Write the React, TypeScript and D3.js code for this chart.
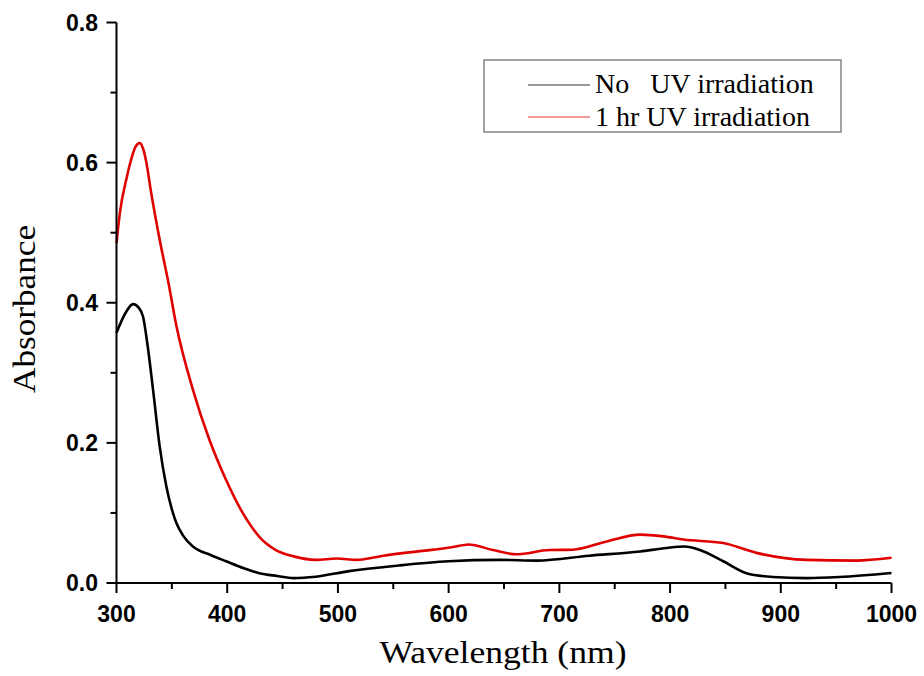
import React from "react";
import * as d3 from "d3";

// No UV irradiation (black)
const noUvX = [300, 308, 315, 320, 324, 328, 333, 339, 345, 350, 354, 360, 369, 385, 399, 415, 429, 445, 460, 480, 510, 555, 600, 646, 680, 727, 773, 797, 813, 827, 848, 869, 893, 923, 953, 1000];
const noUvY = [0.357, 0.385, 0.398, 0.393, 0.38, 0.34, 0.276, 0.195, 0.138, 0.105, 0.086, 0.068, 0.052, 0.04, 0.031, 0.021, 0.014, 0.01, 0.007, 0.009, 0.017, 0.025, 0.031, 0.033, 0.032, 0.039, 0.045, 0.05, 0.052, 0.047, 0.031, 0.014, 0.0086, 0.007, 0.0086, 0.0143];

// 1 hr UV irradiation (red)
const uvX = [300, 303, 309, 313, 317, 321, 324, 327, 331, 339, 347, 354, 369, 384, 399, 414, 429, 444, 460, 480, 499, 517, 541, 586, 603, 618, 640, 661, 691, 712, 742, 773, 794, 812, 848, 878, 923, 968, 1000];
const uvY = [0.485, 0.528, 0.577, 0.603, 0.622, 0.628, 0.62, 0.6, 0.56, 0.49, 0.428, 0.368, 0.276, 0.204, 0.147, 0.1, 0.066, 0.047, 0.038, 0.033, 0.035, 0.033, 0.039, 0.0476, 0.051, 0.055, 0.047, 0.041, 0.047, 0.0475, 0.059, 0.069, 0.0665, 0.062, 0.057, 0.043, 0.033, 0.032, 0.036];

const xMajor = [300, 400, 500, 600, 700, 800, 900, 1000];
const xMinor = [350, 450, 550, 650, 750, 850, 950];
const yMajor = [0.0, 0.2, 0.4, 0.6, 0.8];
const yMinor = [0.1, 0.3, 0.5, 0.7];

const legendLabels = ["No   UV irradiation", "1 hr UV irradiation"];
const colors = ["#000000", "#e00000"];

const W = 924;
const H = 676;

export default function App() {
  const x = d3.scaleLinear().domain([300, 1000]).range([116.5, 891.5]);
  const y = d3.scaleLinear().domain([0, 0.8]).range([583, 22.5]);

  const line = d3
    .line<[number, number]>()
    .x((d) => x(d[0]))
    .y((d) => y(d[1]))
    .curve(d3.curveMonotoneX);

  const series = [
    noUvX.map((v, i) => [v, noUvY[i]] as [number, number]),
    uvX.map((v, i) => [v, uvY[i]] as [number, number]),
  ];

  const tickFont = "'Liberation Sans', Arial, sans-serif";
  const titleFont = "'Liberation Serif', 'Times New Roman', serif";

  return (
    <svg width={W} height={H} style={{ position: "absolute", left: 0, top: 0, background: "#fff" }}>
      {/* curves */}
      {series.map((s, i) => (
        <path key={i} d={line(s) || ""} fill="none" stroke={colors[i]} strokeWidth={2.6} />
      ))}

      {/* axes */}
      <line x1={x(300)} x2={x(300)} y1={y(0.8)} y2={y(0)} stroke="#000" strokeWidth={2} />
      <line x1={x(300)} x2={x(1000)} y1={y(0)} y2={y(0)} stroke="#000" strokeWidth={2} />

      {yMajor.map((t) => (
        <g key={t}>
          <line x1={x(300) - 10} x2={x(300)} y1={y(t)} y2={y(t)} stroke="#000" strokeWidth={2} />
          <text x={98} y={y(t)} dy="0.36em" textAnchor="end" fontFamily={tickFont} fontWeight="bold" fontSize={23}>
            {t.toFixed(1)}
          </text>
        </g>
      ))}
      {yMinor.map((t) => (
        <line key={t} x1={x(300) - 6} x2={x(300)} y1={y(t)} y2={y(t)} stroke="#000" strokeWidth={2} />
      ))}

      {xMajor.map((t) => (
        <g key={t}>
          <line x1={x(t)} x2={x(t)} y1={y(0)} y2={y(0) + 10} stroke="#000" strokeWidth={2} />
          <text x={x(t)} y={622} textAnchor="middle" fontFamily={tickFont} fontWeight="bold" fontSize={23}>
            {t}
          </text>
        </g>
      ))}
      {xMinor.map((t) => (
        <line key={t} x1={x(t)} x2={x(t)} y1={y(0)} y2={y(0) + 6} stroke="#000" strokeWidth={2} />
      ))}

      {/* axis titles */}
      <text
        transform={`translate(35, ${(225 + 393) / 2}) rotate(-90)`}
        textAnchor="middle"
        fontFamily={titleFont}
        fontSize={31}
        textLength={168}
        lengthAdjust="spacingAndGlyphs"
      >
        Absorbance
      </text>
      <text
        x={503}
        y={663}
        textAnchor="middle"
        fontFamily={titleFont}
        fontSize={32}
        textLength={247}
        lengthAdjust="spacingAndGlyphs"
      >
        Wavelength (nm)
      </text>

      {/* legend */}
      <rect x={484} y={60} width={357} height={72} fill="#fff" stroke="#666" strokeWidth={1.2} />
      {legendLabels.map((lab, i) => (
        <g key={lab}>
          <line x1={528} x2={590} y1={85 + i * 32} y2={85 + i * 32} stroke={colors[i]} strokeWidth={1.2} opacity={0.8} />
          <text
            x={595}
            y={93 + i * 32.5}
            fontFamily={titleFont}
            fontSize={28}
            style={{ whiteSpace: "pre" }}
            xmlSpace="preserve"
          >
            {lab}
          </text>
        </g>
      ))}
    </svg>
  );
}
